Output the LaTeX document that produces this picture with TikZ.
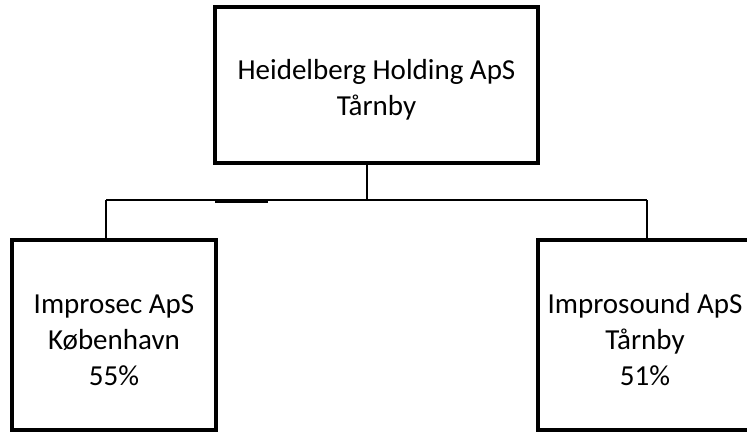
\documentclass[tikz,border=0pt]{standalone}
\usepackage{fontspec}
\setmainfont{Carlito}
\usetikzlibrary{positioning,calc}

\tikzset{
  firm/.style={draw, line width=3.2pt, rectangle, inner sep=0pt},
  firmtext/.style={align=center, font=\fontsize{29}{36}\selectfont, inner sep=0pt},
  link/.style={line width=2.5pt}
}

\begin{document}
\begin{tikzpicture}[x=1pt,y=-1pt]
    \useasboundingbox (0,0) rectangle (747,434);
    \clip (0,0) rectangle (747,434);
    % companies
    \node[firm, minimum width=323pt, minimum height=156pt] (holding) at (376.5,85) {};
    \node[firm, minimum width=204pt, minimum height=190pt] (improsec) at (114,335) {};
    \node[firm, minimum width=214pt, minimum height=190pt] (improsound) at (645,335) {};
    \node[firmtext] (holdingname) at ([yshift=-5pt]holding.center)
      {Heidelberg Holding ApS\\Tårnby};
    \node[firmtext] (improsecname) at ([yshift=-5pt]improsec.center)
      {Improsec ApS\\København\\55\%};
    \node[firmtext] (improsoundname) at ([yshift=-5pt]improsound.center)
      {Improsound ApS\\Tårnby\\51\%};
    % bus
    \coordinate (hub) at (367,200);
    \coordinate (busL) at (106,200);
    \coordinate (busR) at (647,200);
    \coordinate (stubA) at (215,202);
    \coordinate (stubB) at (268,202);
    \draw [line width=2pt] (holding.south -| hub) -- (hub);
    \draw [link] (busL) -- (busR);
    \draw [line width=2pt] (stubA) -- (stubB);
    \draw [line width=2pt] (busL) -- (busL |- improsec.north);
    \draw [link] (busR) -- (busR |- improsound.north);
\end{tikzpicture}
\end{document}
